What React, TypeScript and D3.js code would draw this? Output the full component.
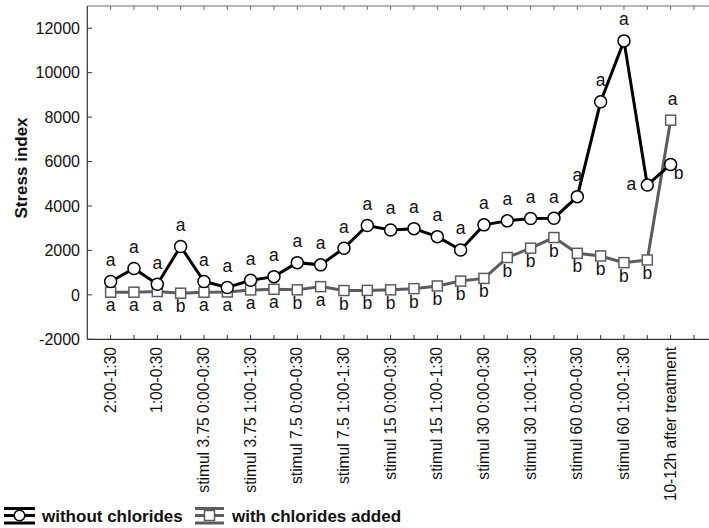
import React from 'react';
import * as d3 from 'd3';

// x categories (one point each); only every second one gets a label
const categories: string[] = [
  '2:00-1:30', '1:30-1:00', '1:00-0:30', '0:30-0:00',
  'stimul 3.75 0:00-0:30', 'stimul 3.75 0:30-1:00', 'stimul 3.75 1:00-1:30', 'stimul 3.75 1:30-2:00',
  'stimul 7.5 0:00-0:30', 'stimul 7.5 0:30-1:00', 'stimul 7.5 1:00-1:30', 'stimul 7.5 1:30-2:00',
  'stimul 15 0:00-0:30', 'stimul 15 0:30-1:00', 'stimul 15 1:00-1:30', 'stimul 15 1:30-2:00',
  'stimul 30 0:00-0:30', 'stimul 30 0:30-1:00', 'stimul 30 1:00-1:30', 'stimul 30 1:30-2:00',
  'stimul 60 0:00-0:30', 'stimul 60 0:30-1:00', 'stimul 60 1:00-1:30', 'stimul 60 1:30-2:00',
  '10-12h after treatment',
];

const withoutChlorides: number[] = [
  600, 1190, 480, 2180, 600, 330, 660, 820, 1450, 1350, 2100, 3120,
  2920, 2980, 2620, 2020, 3150, 3330, 3440, 3450, 4420, 8690, 11430, 4940, 5870,
];
const withChlorides: number[] = [
  120, 120, 150, 75, 120, 130, 220, 250, 225, 370, 195, 200,
  225, 280, 400, 620, 740, 1680, 2100, 2580, 1870, 1750, 1450, 1570, 7860,
];

// significance letters
const lettersWithout: string[] = [
  'a', 'a', 'a', 'a', 'a', 'a', 'a', 'a', 'a', 'a', 'a', 'a',
  'a', 'a', 'a', 'a', 'a', 'a', 'a', 'a', 'a', 'a', 'a', 'a', 'b',
];
const lettersWith: string[] = [
  'a', 'a', 'a', 'b', 'a', 'a', 'a', 'a', 'b', 'a', 'b', 'b',
  'b', 'b', 'b', 'b', 'b', 'b', 'b', 'b', 'b', 'b', 'b', 'b', 'a',
];

const yTicks: number[] = [-2000, 0, 2000, 4000, 6000, 8000, 10000, 12000];

const W = 709;
const H = 528;
const FONT = '"Liberation Sans", Arial, sans-serif';
const GRAY = '#5c5c5c';

export default function App() {
  const x = d3.scaleLinear().domain([-1, 26]).range([87.3, 717.3]);
  const y = d3.scaleLinear().domain([-2000, 13000]).range([339.3, 6]);

  const line = d3.line<number>()
    .x((_, i) => x(i))
    .y(d => y(d));

  const tickIdx = d3.range(0, 27);

  // label offsets for the crowded right end
  const offWithout = (i: number) =>
    i === 23 ? { dx: -16, dy: 5 } : i === 24 ? { dx: 8, dy: 14.5 } : { dx: 0, dy: -15.5 };
  const offWith = (i: number) =>
    i === 24 ? { dx: 2, dy: -15.5 } : { dx: 0, dy: 19 };

  return (
    <svg width={W} height={H} style={{ position: 'absolute', left: 0, top: 0, background: '#fff' }}
      fontFamily={FONT}>
      {/* top frame with ticks */}
      <line x1={87.3} x2={W} y1={6} y2={6} stroke="#6e6e6e" strokeWidth={1.2} />
      {tickIdx.map(i => (
        <line key={'tt' + i} x1={x(i)} x2={x(i)} y1={6} y2={10} stroke="#6e6e6e" />
      ))}

      {/* y axis */}
      <line x1={87.3} x2={87.3} y1={6} y2={339.3} stroke="#333" strokeWidth={1.2} />
      {yTicks.map(t => (
        <g key={'y' + t}>
          <line x1={87.3} x2={92} y1={y(t)} y2={y(t)} stroke="#333" />
          <text x={80} y={y(t)} dy="0.36em" textAnchor="end" fontSize={16} fill="#111">{t}</text>
        </g>
      ))}
      <text transform={`translate(27,168) rotate(-90)`} textAnchor="middle" fontSize={17}
        fontWeight="bold" fill="#111">Stress index</text>

      {/* x axis */}
      <line x1={87.3} x2={W} y1={339.3} y2={339.3} stroke="#333" strokeWidth={1.2} />
      {tickIdx.map(i => (
        <line key={'xt' + i} x1={x(i)} x2={x(i)} y1={335} y2={339.3} stroke="#333" />
      ))}
      {categories.map((c, i) => i % 2 === 0 ? (
        <text key={'xl' + i} transform={`translate(${x(i) + 5},347) rotate(-90)`} textAnchor="end"
          fontSize={15.6} fill="#111">{c}</text>
      ) : null)}

      {/* series with chlorides */}
      <path d={line(withChlorides) || ''} fill="none" stroke={GRAY} strokeWidth={3} />
      {withChlorides.map((v, i) => (
        <rect key={'s' + i} x={x(i) - 5} y={y(v) - 5} width={10} height={10} fill="#fff"
          stroke={GRAY} strokeWidth={1.5} />
      ))}

      {/* series without chlorides */}
      <path d={line(withoutChlorides) || ''} fill="none" stroke="#000" strokeWidth={3} />
      {withoutChlorides.map((v, i) => (
        <circle key={'c' + i} cx={x(i)} cy={y(v)} r={6} fill="#fff" stroke="#000" strokeWidth={1.5} />
      ))}

      {/* letters */}
      {lettersWith.map((l, i) => {
        const o = offWith(i);
        return (
          <text key={'lw' + i} x={x(i) + o.dx} y={y(withChlorides[i]) + o.dy} textAnchor="middle"
            fontSize={17.5} fill="#111">{l}</text>
        );
      })}
      {lettersWithout.map((l, i) => {
        const o = offWithout(i);
        return (
          <text key={'lo' + i} x={x(i) + o.dx} y={y(withoutChlorides[i]) + o.dy} textAnchor="middle"
            fontSize={17.5} fill="#111">{l}</text>
        );
      })}

      {/* legend */}
      <g>
        <line x1={4} x2={35} y1={508.5} y2={508.5} stroke="#000" strokeWidth={3} />
        <line x1={4} x2={35} y1={515.5} y2={515.5} stroke="#000" strokeWidth={3} />
        <line x1={4} x2={35} y1={523} y2={523} stroke="#000" strokeWidth={3} />
        <circle cx={19.5} cy={515.5} r={5.3} fill="#fff" stroke="#000" strokeWidth={1.5} />
        <text x={42} y={521.5} fontSize={17} fontWeight="bold" fill="#111">without chlorides</text>

        <line x1={195} x2={224} y1={508.5} y2={508.5} stroke={GRAY} strokeWidth={3} />
        <line x1={195} x2={224} y1={515.5} y2={515.5} stroke={GRAY} strokeWidth={3} />
        <line x1={195} x2={224} y1={523} y2={523} stroke={GRAY} strokeWidth={3} />
        <rect x={204.5} y={510.5} width={10} height={10} fill="#fff" stroke={GRAY} strokeWidth={1.5} />
        <text x={232} y={521.5} fontSize={17} fontWeight="bold" fill="#111">with chlorides added</text>
      </g>
    </svg>
  );
}
